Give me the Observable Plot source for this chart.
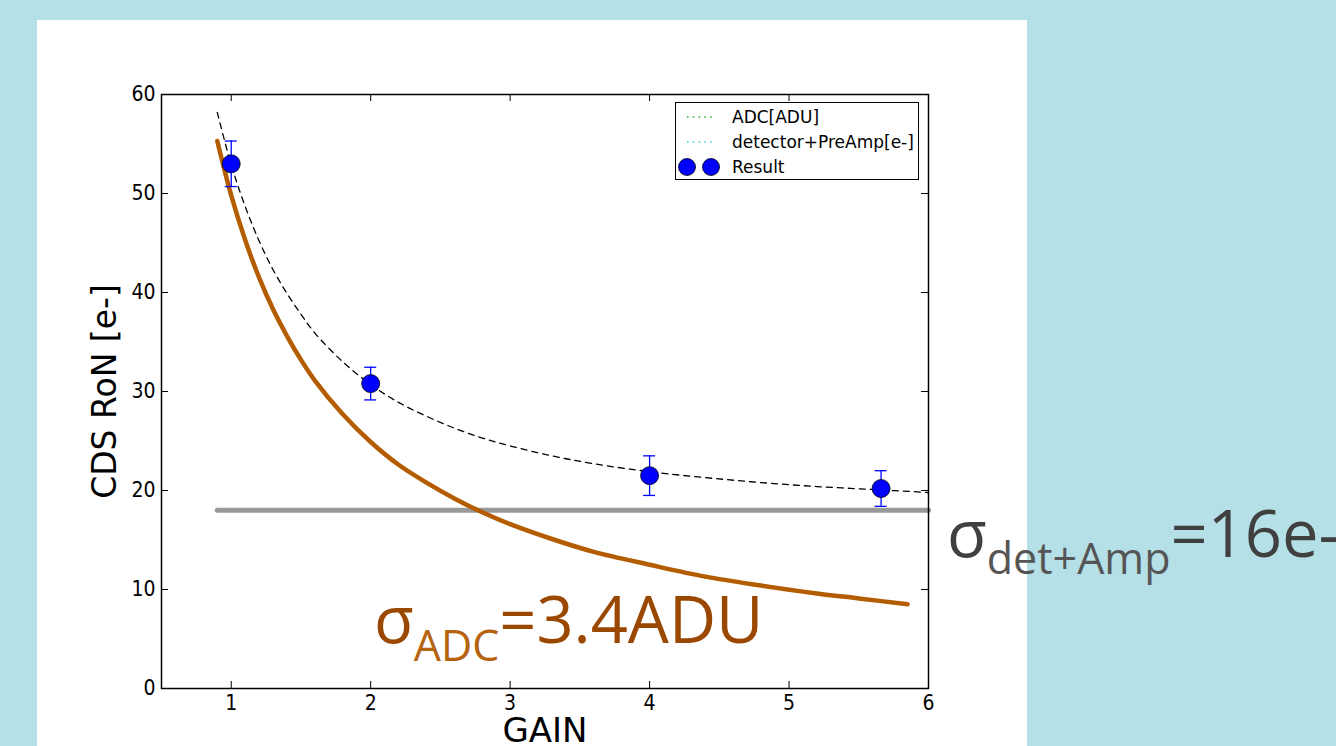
<!DOCTYPE html>
<html><head><meta charset="utf-8">
<script src="https://cdn.jsdelivr.net/npm/d3@7"></script>
<script src="https://cdn.jsdelivr.net/npm/@observablehq/plot@0.6"></script>
<style>
body{margin:0;width:1336px;height:746px;overflow:hidden;background:#b5e0e7;position:relative;font-family:"DejaVu Sans",sans-serif}
#panel{position:absolute;left:37px;top:20px;width:990px;height:726px;background:#fff}
#chart{position:absolute;left:0;top:0}
.legend{position:absolute;left:675px;top:102px;width:244px;height:78px;border:1.5px solid #000;background:#fff;font-size:17px;color:#000;box-sizing:border-box}
.legend .row{position:absolute;left:0;height:24px;display:flex;align-items:center}
.legend svg{display:block}
.legend span{margin-left:8px}
.ann{position:absolute;font-family:"Open Sans",sans-serif;white-space:nowrap;line-height:1}
.ann sub{vertical-align:baseline;position:relative}
</style>
</head><body>
<div id="panel"></div>
<div id="chart"></div>
<div class="legend">
  <div class="row" style="top:2px"><svg width="48" height="20"><line x1="11" x2="38" y1="10" y2="10" stroke="#2fb52f" stroke-width="1.6" stroke-dasharray="1.6,4.2"/></svg><span>ADC[ADU]</span></div>
  <div class="row" style="top:27px"><svg width="48" height="20"><line x1="11" x2="38" y1="10" y2="10" stroke="#3fd0d0" stroke-width="1.6" stroke-dasharray="1.6,4.2"/></svg><span>detector+PreAmp[e-]</span></div>
  <div class="row" style="top:52px"><svg width="48" height="22"><circle cx="11" cy="11" r="8.5" fill="#0000ff" stroke="#000" stroke-width="0.8"/><circle cx="35" cy="11" r="8.5" fill="#0000ff" stroke="#000" stroke-width="0.8"/></svg><span>Result</span></div>
</div>
<div class="ann" style="left:374px;top:586px;font-size:65px;color:#9a4700">σ<sub style="font-size:43px;top:18px;color:#b5630f">ADC</sub>=3.4ADU</div>
<div class="ann" style="left:947px;top:500px;font-size:65px;color:#404040">σ<sub style="font-size:43px;top:17px;color:#555">det+Amp</sub>=16e-</div>
<script>
// measured points
const gain = [1, 2, 4, 5.66];
const ron = [53.0, 30.8, 21.5, 20.2];
const ronErr = [2.3, 1.65, 2.0, 1.8];

// fitted total noise curve (dashed)
const fitGain = [0.9, 1.0, 1.1, 1.2, 1.3, 1.4, 1.5, 1.6, 1.8, 2.0, 2.2, 2.4, 2.6, 2.8, 3.0, 3.3, 3.6, 4.0, 4.4, 4.8, 5.2, 5.6, 6.0];
const fitRon = [58.2, 52.9, 48.7, 45.2, 42.3, 39.9, 37.8, 35.9, 33.0, 30.7, 28.9, 27.5, 26.3, 25.3, 24.5, 23.5, 22.7, 21.9, 21.3, 20.8, 20.4, 20.1, 19.8];

// ADC noise contribution (orange)
const adcGain = [0.9, 1.0, 1.1, 1.2, 1.3, 1.4, 1.5, 1.6, 1.8, 2.0, 2.2, 2.4, 2.6, 2.8, 3.0, 3.3, 3.6, 4.0, 4.4, 4.8, 5.2, 5.5, 5.85];
const adcRon = [55.3, 49.8, 45.3, 41.5, 38.3, 35.6, 33.2, 31.1, 27.7, 24.9, 22.6, 20.8, 19.2, 17.8, 16.6, 15.1, 13.8, 12.5, 11.3, 10.4, 9.6, 9.1, 8.5];

// detector + preamp noise (gray)
const detGain = [0.9, 6.0];
const detRon = [18, 18];

const xTicks = [1, 2, 3, 4, 5, 6];
const yTicks = [0, 10, 20, 30, 40, 50, 60];

const pts = gain.map((g, i) => ({g, r: ron[i], lo: ron[i] - ronErr[i], hi: ron[i] + ronErr[i]}));
const fit = fitGain.map((g, i) => ({g, r: fitRon[i]}));
const adc = adcGain.map((g, i) => ({g, r: adcRon[i]}));
const det = detGain.map((g, i) => ({g, r: detRon[i]}));

const W = 1336, H = 746, mL = 161, mR = 408, mT = 94, mB = 58;
const pw = W - mL - mR, ph = H - mT - mB, tk = 7;
const tickFont = "DejaVu Sans Condensed, DejaVu Sans, sans-serif";

const chart = Plot.plot({
  width: W, height: H,
  marginLeft: mL, marginRight: mR, marginTop: mT, marginBottom: mB,
  style: {background: "transparent", fontFamily: "DejaVu Sans, sans-serif", color: "#000"},
  x: {domain: [0.5, 6]},
  y: {domain: [0, 60]},
  marks: [
    Plot.axisX(xTicks, {tickSize: 0, tickPadding: 7, fontSize: 21, fontFamily: tickFont, tickFormat: d3.format("d"), label: null}),
    Plot.axisY(yTicks, {tickSize: 0, tickPadding: 6, fontSize: 21, fontFamily: tickFont, tickFormat: d3.format("d"), label: null}),
    Plot.ruleX(xTicks, {x: d => d, insetTop: ph - tk, stroke: "#000", strokeWidth: 1}),
    Plot.ruleX(xTicks, {x: d => d, insetBottom: ph - tk, stroke: "#000", strokeWidth: 1}),
    Plot.ruleY(yTicks, {y: d => d, insetRight: pw - tk, stroke: "#000", strokeWidth: 1}),
    Plot.ruleY(yTicks, {y: d => d, insetLeft: pw - tk, stroke: "#000", strokeWidth: 1}),
    Plot.line(det, {x: "g", y: "r", stroke: "#999999", strokeWidth: 5}),
    Plot.line(adc, {x: "g", y: "r", stroke: "#b35c00", strokeWidth: 4.5, curve: "catmull-rom"}),
    Plot.line(fit, {x: "g", y: "r", stroke: "#000", strokeWidth: 1.3, strokeDasharray: "6,5", curve: "catmull-rom"}),
    Plot.ruleX(pts, {x: "g", y1: "lo", y2: "hi", stroke: "#0000ff", strokeWidth: 1.3}),
    Plot.ruleY(pts, {x1: "g", x2: "g", y: "lo", insetLeft: -6, insetRight: -6, stroke: "#0000ff", strokeWidth: 1.3}),
    Plot.ruleY(pts, {x1: "g", x2: "g", y: "hi", insetLeft: -6, insetRight: -6, stroke: "#0000ff", strokeWidth: 1.3}),
    Plot.dot(pts, {x: "g", y: "r", r: 9, fill: "#0000ff", stroke: "#000", strokeWidth: 0.8}),
    Plot.frame({stroke: "#000", strokeWidth: 1.5}),
    Plot.text(["CDS RoN [e-]"], {frameAnchor: "left", textAnchor: "middle", dx: -56, rotate: -90, fontSize: 33, fill: "#000"}),
    Plot.text(["GAIN"], {frameAnchor: "bottom", textAnchor: "middle", dy: 53, fontSize: 34, fill: "#000"})
  ]
});
document.getElementById("chart").appendChild(chart);
</script>
</body></html>
